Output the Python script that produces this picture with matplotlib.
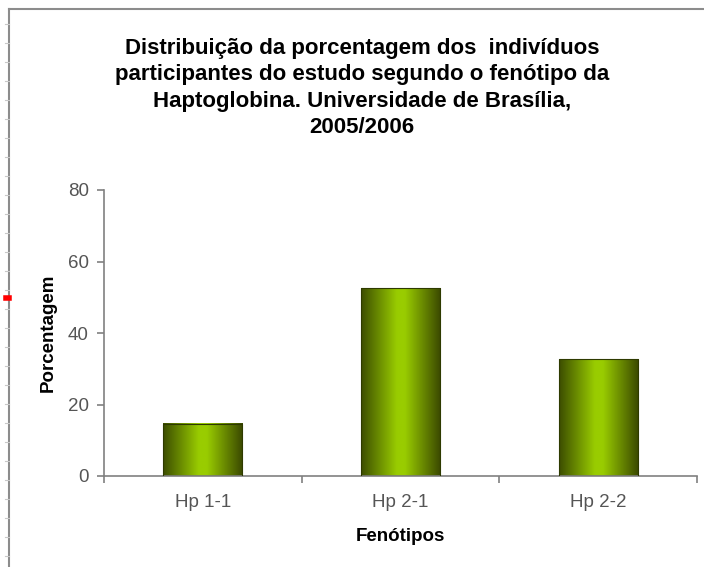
import numpy as np
import matplotlib
matplotlib.use("Agg")
import matplotlib.pyplot as plt
from matplotlib.colors import LinearSegmentedColormap
from matplotlib.lines import Line2D

plt.rcParams['font.family'] = ['Liberation Sans', 'DejaVu Sans']

# data
fenotipos = ['Hp 1-1', 'Hp 2-1', 'Hp 2-2']
porcentagem = [14.6, 52.5, 32.6]
yticks = [0, 20, 40, 60, 80]
titulo = ("Distribuição da porcentagem dos  indivíduos\n"
          "participantes do estudo segundo o fenótipo da\n"
          "Haptoglobina. Universidade de Brasília,\n"
          "2005/2006")

fig = plt.figure(figsize=(7.04, 5.67), dpi=100)
fig.patch.set_facecolor('white')
ax = fig.add_axes([104 / 704, 1 - 476 / 567, 593 / 704, 286 / 567])

x = np.arange(len(fenotipos))
bars = ax.bar(x, porcentagem, 0.4, facecolor='none', edgecolor='#2e3a00',
              linewidth=0.8, zorder=3)

# horizontal gradient inside each bar
cmap = LinearSegmentedColormap.from_list(
    'verde', [(0.0, '#3c4d00'), (0.45, '#99cc00'), (0.55, '#99cc00'), (1.0, '#3a4800')])
grad = np.linspace(0, 1, 256).reshape(1, -1)
for b in bars:
    ax.imshow(grad, cmap=cmap, aspect='auto', zorder=2,
              extent=[b.get_x(), b.get_x() + b.get_width(), 0, b.get_height()])

ax.set_xlim(-0.5, len(fenotipos) - 0.5)
ax.set_ylim(0, 80)
ax.set_yticks(yticks)
ax.set_xticks(x)
ax.set_xticklabels(fenotipos)
ax.set_xticks(np.arange(len(fenotipos) + 1) - 0.5, minor=True)

for s in ['top', 'right']:
    ax.spines[s].set_visible(False)
for s in ['left', 'bottom']:
    ax.spines[s].set_color('#808080')
    ax.spines[s].set_linewidth(1.2)

ax.tick_params(axis='x', which='major', length=0, pad=13, labelsize=13.5, labelcolor='#555555')
ax.tick_params(axis='x', which='minor', length=5, color='#808080', width=1.2)
ax.tick_params(axis='y', length=5, color='#808080', width=1.2, pad=6,
               labelsize=13.5, labelcolor='#555555')

ax.set_xlabel('Fenótipos', fontsize=13.5, fontweight='bold', labelpad=12)
ax.set_ylabel('Porcentagem', fontsize=13.5, fontweight='bold', labelpad=8)

fig.text(362 / 704, 1 - 88 / 567, titulo, ha='center', va='center',
         fontsize=16, fontweight='bold', linespacing=1.32)

# outer frame of the original chart area
fig.lines.append(Line2D([9 / 704, 9 / 704], [0, 1 - 9 / 567], transform=fig.transFigure,
                        color='#8c8c8c', linewidth=1.5))
fig.lines.append(Line2D([9 / 704, 1], [1 - 9 / 567, 1 - 9 / 567], transform=fig.transFigure,
                        color='#8c8c8c', linewidth=1.5))
for yy in np.arange(24, 567, 19):
    fig.lines.append(Line2D([5 / 704, 9 / 704], [1 - yy / 567, 1 - yy / 567],
                            transform=fig.transFigure, color='#c8c8c8', linewidth=0.8))
fig.lines.append(Line2D([6 / 704, 9 / 704], [1 - 298 / 567, 1 - 298 / 567],
                        transform=fig.transFigure, color='red', linewidth=4))

fig.savefig('out.png', dpi=100)
